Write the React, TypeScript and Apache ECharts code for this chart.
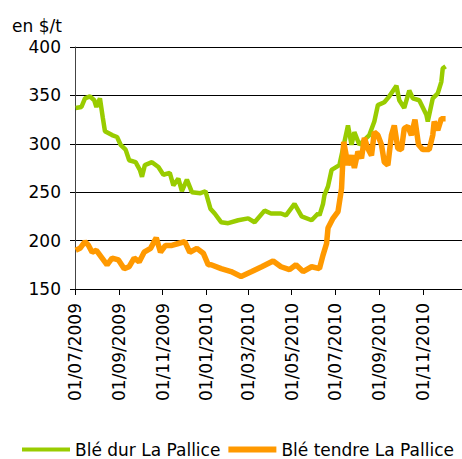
import React, { useEffect, useRef } from "react";
import * as echarts from "echarts";

const SERIES_NAMES = ["Blé dur La Pallice", "Blé tendre La Pallice"];
const Y_TICKS = [150, 200, 250, 300, 350, 400];
const X_TICK_DATES = [
  "2009-07-01", "2009-09-01", "2009-11-01", "2010-01-01", "2010-03-01",
  "2010-05-01", "2010-07-01", "2010-09-01", "2010-11-01",
];

const durDates = [
  "2009-07-02", "2009-07-10", "2009-07-15", "2009-07-22", "2009-07-28", "2009-07-31",
  "2009-08-05", "2009-08-09", "2009-08-12", "2009-08-22", "2009-08-29", "2009-09-03",
  "2009-09-10", "2009-09-15", "2009-09-24", "2009-09-30", "2009-10-03", "2009-10-07",
  "2009-10-17", "2009-10-26", "2009-11-02", "2009-11-11", "2009-11-16", "2009-11-23",
  "2009-11-28", "2009-12-05", "2009-12-12", "2009-12-24", "2009-12-31", "2010-01-07",
  "2010-01-13", "2010-01-22", "2010-02-01", "2010-02-15", "2010-03-01", "2010-03-10",
  "2010-03-24", "2010-04-02", "2010-04-16", "2010-04-23", "2010-05-05", "2010-05-15",
  "2010-05-29", "2010-06-07", "2010-06-09", "2010-06-14", "2010-06-16", "2010-06-21",
  "2010-06-26", "2010-07-07", "2010-07-12", "2010-07-19", "2010-07-24", "2010-07-28",
  "2010-08-04", "2010-08-18", "2010-08-25", "2010-08-30", "2010-09-08", "2010-09-15",
  "2010-09-25", "2010-09-29", "2010-10-06", "2010-10-13", "2010-10-18", "2010-10-27",
  "2010-11-06", "2010-11-08", "2010-11-15", "2010-11-22", "2010-11-27", "2010-11-29",
  "2010-12-03",
];
const durValues = [
  337, 338, 347, 349, 345, 338,
  347, 327, 313, 309, 307, 299,
  294, 283, 281, 273, 266, 278,
  281, 276, 268, 270, 257, 264,
  251, 263, 250, 249, 251, 233,
  228, 219, 218, 221, 223, 219,
  231, 228, 228, 226, 238, 225,
  221, 228, 226, 238, 247, 256,
  273, 278, 295, 319, 299, 312,
  299, 309, 323, 340, 343, 349,
  360, 345, 337, 355, 347, 345,
  330, 323, 347, 352, 364, 378,
  380,
];

const tendreDates = [
  "2009-07-02", "2009-07-08", "2009-07-15", "2009-07-20", "2009-07-25", "2009-07-31",
  "2009-08-08", "2009-08-15", "2009-08-22", "2009-08-31", "2009-09-08", "2009-09-15",
  "2009-09-22", "2009-09-29", "2009-10-06", "2009-10-15", "2009-10-23", "2009-10-29",
  "2009-11-05", "2009-11-14", "2009-11-23", "2009-12-02", "2009-12-09", "2009-12-19",
  "2009-12-28", "2010-01-04", "2010-01-08", "2010-01-22", "2010-02-05", "2010-02-19",
  "2010-03-06", "2010-03-20", "2010-04-05", "2010-04-16", "2010-04-28", "2010-05-07",
  "2010-05-17", "2010-05-29", "2010-06-09", "2010-06-14", "2010-06-19", "2010-06-21",
  "2010-06-28", "2010-07-05", "2010-07-10", "2010-07-13", "2010-07-19", "2010-07-24",
  "2010-07-28", "2010-08-02", "2010-08-07", "2010-08-11", "2010-08-16", "2010-08-21",
  "2010-08-25", "2010-08-30", "2010-09-04", "2010-09-08", "2010-09-13", "2010-09-18",
  "2010-09-22", "2010-09-27", "2010-10-02", "2010-10-06", "2010-10-11", "2010-10-16",
  "2010-10-21", "2010-10-26", "2010-11-01", "2010-11-10", "2010-11-15", "2010-11-17",
  "2010-11-22", "2010-11-27", "2010-12-03",
];
const tendreValues = [
  190, 192, 199, 195, 188, 190,
  182, 175, 182, 180, 171, 173,
  182, 178, 188, 192, 203, 188,
  195, 195, 197, 199, 188, 192,
  187, 175, 175, 171, 168, 163,
  168, 173, 179, 173, 170, 175,
  168, 173, 171, 185, 197, 213,
  223, 230, 254, 302, 278, 288,
  275, 292, 285, 306, 295, 288,
  312, 309, 299, 281, 278, 309,
  319, 295, 294, 316, 318, 309,
  325, 299, 294, 294, 309, 323,
  314, 326, 326,
];

const FONT = "DejaVu Sans";

function parseDay(s: string): number {
  const [y, m, d] = s.split("-").map(Number);
  return Date.UTC(y, m - 1, d);
}
const pad = (n: number) => (n < 10 ? "0" + n : "" + n);

export default function App() {
  const ref = useRef<HTMLDivElement>(null);
  useEffect(() => {
    document.body.style.margin = "0";
    if (!ref.current) return;
    const chart = echarts.init(ref.current, undefined, { renderer: "svg" });
    const tickVals = X_TICK_DATES.map(parseDay);
    chart.setOption({
      animation: false,
      grid: { left: 75, right: 0, top: 47, bottom: 170 },
      graphic: [
        {
          type: "text",
          left: 12,
          top: 17,
          style: { text: "en $/t", font: `17px "${FONT}"`, fill: "#000" },
        },
      ],
      legend: {
        left: 22,
        top: 441,
        padding: 0,
        width: 900,
        itemWidth: 48,
        itemHeight: 14,
        itemGap: 8,
        symbolKeepAspect: true,
        itemStyle: { borderWidth: 0 },
        textStyle: { fontFamily: FONT, fontSize: 17, color: "#000" },
        data: [
          { name: SERIES_NAMES[0], icon: "path://M0,0H48V4H0Z" },
          { name: SERIES_NAMES[1], icon: "path://M0,0H48V6H0Z" },
        ],
      },
      xAxis: {
        type: "value",
        min: parseDay("2009-07-01"),
        max: parseDay("2010-12-26"),
        axisLine: { show: true, lineStyle: { color: "#000", width: 1 } },
        axisTick: {
          show: true,
          length: 6,
          lineStyle: { color: "#000" },
          customValues: tickVals,
        },
        axisLabel: {
          customValues: tickVals,
          rotate: 90,
          margin: 14,
          fontFamily: FONT,
          fontSize: 17,
          color: "#000",
          formatter: (v: number) => {
            const d = new Date(v);
            return pad(d.getUTCDate()) + "/" + pad(d.getUTCMonth() + 1) + "/" + d.getUTCFullYear();
          },
        },
        splitLine: { show: false },
      },
      yAxis: {
        type: "value",
        min: Y_TICKS[0],
        max: Y_TICKS[Y_TICKS.length - 1],
        interval: 50,
        axisLine: { show: true, lineStyle: { color: "#444", width: 1 } },
        axisTick: { show: true, length: 5, lineStyle: { color: "#000" } },
        axisLabel: { margin: 14, fontFamily: FONT, fontSize: 17, color: "#000" },
        splitLine: { show: true, lineStyle: { color: "#000", width: 1 } },
      },
      series: [
        {
          name: SERIES_NAMES[0],
          type: "line",
          symbol: "none",
          color: "#99CC00",
          lineStyle: { width: 4.5, color: "#99CC00" },
          data: durDates.map((d, i) => [parseDay(d), durValues[i]]),
        },
        {
          name: SERIES_NAMES[1],
          type: "line",
          symbol: "none",
          color: "#FF9900",
          lineStyle: { width: 5.5, color: "#FF9900" },
          data: tendreDates.map((d, i) => [parseDay(d), tendreValues[i]]),
        },
      ],
    });
    return () => chart.dispose();
  }, []);
  return <div ref={ref} style={{ width: 462, height: 459 }} />;
}
